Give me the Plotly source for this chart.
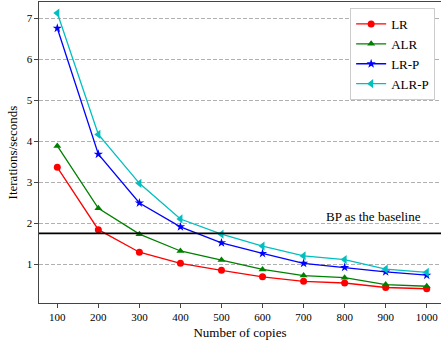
import plotly.graph_objects as go

copies = [100, 200, 300, 400, 500, 600, 700, 800, 900, 1000]
lr = [3.37, 1.85, 1.30, 1.03, 0.86, 0.70, 0.59, 0.55, 0.44, 0.41]
alr = [3.89, 2.37, 1.74, 1.33, 1.11, 0.88, 0.73, 0.68, 0.51, 0.47]
lr_p = [6.76, 3.69, 2.50, 1.92, 1.53, 1.27, 1.03, 0.93, 0.82, 0.74]
alr_p = [7.13, 4.17, 2.98, 2.11, 1.74, 1.45, 1.21, 1.12, 0.89, 0.81]
baseline = 1.76
baseline_label = "BP as the baseline"

series = [
    ("LR", lr, "#ff0000", "circle", 7),
    ("ALR", alr, "#008000", "triangle-up", 7),
    ("LR-P", lr_p, "#0000ff", "star", 7),
    ("ALR-P", alr_p, "#00bfbf", "triangle-left", 8),
]

font = "Liberation Serif"
fig = go.Figure()
for name, vals, color, sym, sz in series:
    fig.add_trace(go.Scatter(
        x=copies, y=vals, name=name, mode="lines+markers",
        line=dict(color=color, width=1.3),
        marker=dict(symbol=sym, size=sz, color=color),
    ))

fig.add_hline(y=baseline, line=dict(color="black", width=1.6))
fig.add_annotation(x=870, y=2.16, text=baseline_label, showarrow=False,
                   font=dict(family=font, size=13, color="black"))

fig.update_layout(
    width=441, height=343,
    margin=dict(l=39, r=0, t=2, b=40),
    paper_bgcolor="white", plot_bgcolor="white",
    font=dict(family=font, size=11, color="black"),
    legend=dict(x=0.774, y=0.98, xanchor="left", yanchor="top",
                bordercolor="#cccccc", borderwidth=1, bgcolor="white",
                font=dict(family=font, size=13), tracegroupgap=0),
    showlegend=True,
)
fig.update_xaxes(
    range=[55.4, 1034.8], tickvals=copies, showgrid=False,
    showline=True, linecolor="#444", linewidth=1.2, mirror=True,
    ticks="outside", ticklen=3.5, tickcolor="#444",
    title=dict(text="Number of copies", font=dict(family=font, size=13), standoff=6),
    zeroline=False,
)
fig.update_yaxes(
    range=[0.062, 7.40], tickvals=[1, 2, 3, 4, 5, 6, 7],
    showgrid=True, gridcolor="#b0b0b0", griddash="4px,2px", gridwidth=1,
    showline=True, linecolor="#444", linewidth=1.2,
    ticks="outside", ticklen=3.5, tickcolor="#444",
    title=dict(text="Iterations/seconds", font=dict(family=font, size=13), standoff=6),
    zeroline=False,
)

fig.write_html("out.html", config={"displayModeBar": False},
               post_script="document.body.style.margin='0';document.body.style.overflow='hidden';")
